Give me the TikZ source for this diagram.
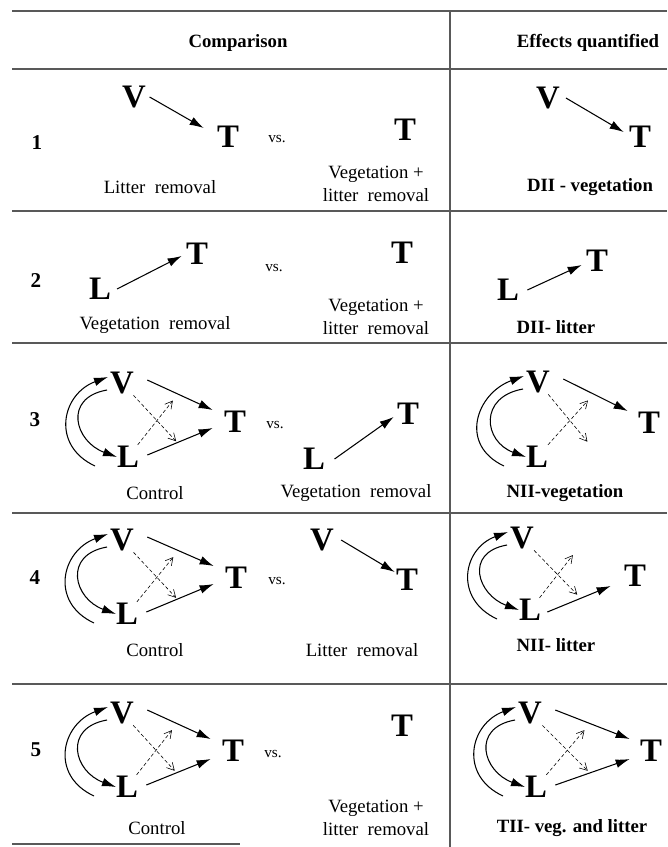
\documentclass[tikz,border=0pt]{standalone}
\usepackage{fontspec}
\setmainfont{Liberation Serif}
\usetikzlibrary{arrows.meta, calc}
\tikzset{
  letter/.style={font=\fontsize{28}{28}\selectfont\bfseries, inner sep=1pt},
  rownum/.style={font=\fontsize{18}{18}\selectfont\bfseries},
  caption/.style={font=\fontsize{16}{19}\selectfont, align=center},
  effect/.style={font=\fontsize{16}{19}\selectfont\bfseries, align=center},
  vstext/.style={font=\fontsize{13}{13}\selectfont},
  rule/.style={draw=black!65, line width=1pt},
  arrow/.style={-{Latex[length=4.2mm, width=2.6mm]}, line width=0.9pt},
  dasharrow/.style={-{Straight Barb[length=2.2mm, width=2.4mm]}, dash pattern=on 3pt off 2pt, line width=0.5pt}
}
% feedback arcs between V (#1) and L (#2)
\newcommand{\feedback}[2]{%
  \draw[arrow] ([shift={(-33,-9)}]#2.center) to[out=155, in=200, looseness=1.4] ([shift={(-14,6)}]#1.center);
  \draw[arrow] ([shift={(-15,-7)}]#1.center) to[out=190, in=160, looseness=1.7] ([shift={(-11,0)}]#2.center);
}
% dashed cross between V (#1), L (#2) and T (#3)
\newcommand{\crossed}[3]{%
  \draw[dasharrow] (#1) -- ($(#2)!.45!(#3)$);
  \draw[dasharrow] (#2) -- ($(#1)!.45!(#3)$);
}
\begin{document}
\begin{tikzpicture}[x=0.03cm, y=0.03cm]
\useasboundingbox (0,0) rectangle (667,-847);
% table rules
\draw[rule] (12,-11) -- (667,-11);
\draw[rule] (12,-69) -- (667,-69);
\draw[rule] (12,-211) -- (667,-211);
\draw[rule] (12,-343) -- (667,-343);
\draw[rule] (12,-513) -- (667,-513);
\draw[rule] (12,-684) -- (667,-684);
\draw[rule] (12,-844) -- (240,-844);
\draw[rule] (450,-11) -- (450,-847);
% header
\node[effect] (cmp) at (238,-43) {Comparison};
\node[effect] (eff) at (588,-43) {Effects quantified};

% row 1
\node[rownum] (n1) at (37,-143) {1};
\node[letter] (V1) at (134,-97) {V};
\node[letter] (T1) at (228,-137) {T};
\node[vstext] (vs1) at (277,-139) {vs.};
\node[letter] (T1r) at (405,-130) {T};
\node[caption] (c1l) at (160,-187) {Litter~~removal};
\node[caption] (c1r) at (376,-184) {Vegetation +\\litter~~removal};
\node[letter] (V1e) at (548,-98) {V};
\node[letter] (T1e) at (640,-137) {T};
\node[effect] (e1) at (590,-187) {DII - vegetation};
\draw[arrow] ([xshift=2]V1.east) -- ([shift={(-12,9)}]T1.west);
\draw[arrow] ([xshift=4]V1e.east) -- ([shift={(-4,5)}]T1e.west);

% row 2
\node[rownum] (n2) at (36,-281) {2};
\node[letter] (L2) at (100,-289) {L};
\node[letter] (T2) at (197,-254) {T};
\node[vstext] (vs2) at (274,-268) {vs.};
\node[letter] (T2r) at (402,-253) {T};
\node[caption] (c2l) at (155,-325) {Vegetation~~removal};
\node[caption] (c2r) at (376,-317) {Vegetation +\\litter~~removal};
\node[letter] (L2e) at (508,-290) {L};
\node[letter] (T2e) at (597,-261) {T};
\node[effect] (e2) at (556,-327) {DII- litter};
\draw[arrow] ([xshift=4]L2.east) -- ([shift={(-3,-2)}]T2.west);
\draw[arrow] ([xshift=6]L2e.east) -- ([shift={(-3,-4)}]T2e.west);

% row 3
\node[rownum] (n3) at (35,-420) {3};
\node[letter] (V3) at (122,-383) {V};
\node[letter] (L3) at (128,-457) {L};
\node[letter] (T3) at (235,-422) {T};
\node[vstext] (vs3) at (275,-425) {vs.};
\node[letter] (L3r) at (314,-459) {L};
\node[letter] (T3r) at (408,-414) {T};
\node[caption] (c3l) at (155,-493) {Control};
\node[caption] (c3r) at (356,-493) {Vegetation~~removal};
\node[letter] (V3e) at (538,-382) {V};
\node[letter] (L3e) at (537,-457) {L};
\node[letter] (T3e) at (649,-423) {T};
\node[effect] (e3) at (565,-493) {NII-vegetation};
\feedback{V3}{L3}
\crossed{V3}{L3}{T3}
\draw[arrow] ([shift={(12,3)}]V3.east) -- ([shift={(-10,12)}]T3.west);
\draw[arrow] ([shift={(7,2)}]L3.east) -- ([shift={(-10,-6)}]T3.west);
\draw[arrow] ([xshift=7]L3r.east) -- ([shift={(-2,-3)}]T3r.west);
\feedback{V3e}{L3e}
\crossed{V3e}{L3e}{T3e}
\draw[arrow] ([shift={(12,3)}]V3e.east) -- ([shift={(-9,12)}]T3e.west);

% row 4
\node[rownum] (n4) at (35,-578) {4};
\node[letter] (V4) at (122,-540) {V};
\node[letter] (L4) at (127,-614) {L};
\node[letter] (T4) at (236,-578) {T};
\node[vstext] (vs4) at (277,-581) {vs.};
\node[letter] (V4r) at (322,-540) {V};
\node[letter] (T4r) at (407,-580) {T};
\node[caption] (c4l) at (155,-650) {Control};
\node[caption] (c4r) at (362,-650) {Litter~~removal};
\node[letter] (V4e) at (522,-538) {V};
\node[letter] (L4e) at (530,-610) {L};
\node[letter] (T4e) at (635,-576) {T};
\node[effect] (e4) at (556,-645) {NII- litter};
\feedback{V4}{L4}
\crossed{V4}{L4}{T4}
\draw[arrow] ([shift={(12,3)}]V4.east) -- ([shift={(-10,12)}]T4.west);
\draw[arrow] ([shift={(7,2)}]L4.east) -- ([shift={(-10,-6)}]T4.west);
\draw[arrow] ([xshift=5]V4r.east) -- ([shift={(0,8)}]T4r.west);
\feedback{V4e}{L4e}
\crossed{V4e}{L4e}{T4e}
\draw[arrow] ([shift={(5,-2)}]L4e.east) -- ([shift={(-12,-10)}]T4e.west);

% row 5
\node[rownum] (n5) at (36,-750) {5};
\node[letter] (V5) at (122,-713) {V};
\node[letter] (L5) at (127,-787) {L};
\node[letter] (T5) at (233,-751) {T};
\node[vstext] (vs5) at (273,-754) {vs.};
\node[letter] (T5r) at (402,-726) {T};
\node[caption] (c5l) at (157,-828) {Control};
\node[caption] (c5r) at (376,-818) {Vegetation +\\litter~~removal};
\node[letter] (V5e) at (530,-713) {V};
\node[letter] (L5e) at (536,-787) {L};
\node[letter] (T5e) at (651,-751) {T};
\node[effect] (e5) at (572,-828) {TII- veg. and litter};
\feedback{V5}{L5}
\crossed{V5}{L5}{T5}
\draw[arrow] ([shift={(12,3)}]V5.east) -- ([shift={(-10,12)}]T5.west);
\draw[arrow] ([shift={(7,2)}]L5.east) -- ([shift={(-10,-8)}]T5.west);
\feedback{V5e}{L5e}
\crossed{V5e}{L5e}{T5e}
\draw[arrow] ([shift={(12,3)}]V5e.east) -- ([shift={(-9,12)}]T5e.west);
\draw[arrow] ([shift={(7,2)}]L5e.east) -- ([shift={(-9,-8)}]T5e.west);
\end{tikzpicture}
\end{document}
